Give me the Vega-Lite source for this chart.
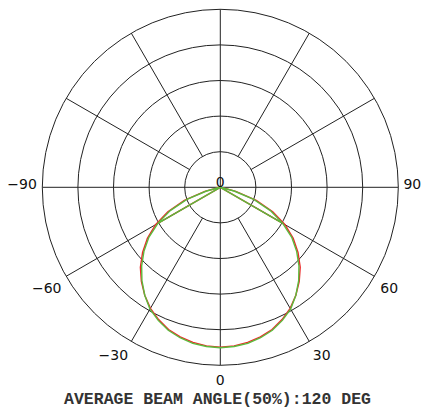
{
  "$schema": "https://vega.github.io/schema/vega-lite/v6.json",
  "autosize": "none",
  "width": 400,
  "height": 374.6,
  "padding": {"left": 20.3, "top": 0, "right": 0.7, "bottom": 35.4},
  "background": "white",
  "config": {"view": {"stroke": null}},
  "datasets": {
    "rings": [{"r": 0.2}, {"r": 0.4}, {"r": 0.6}, {"r": 0.8}, {"r": 1.0}],
    "spokes": [
      {"x": 0, "y": 1, "x2": 0, "y2": -1},
      {"x": -1, "y": 0, "x2": 1, "y2": 0},
      {"x": 0.1, "y": 0.1732, "x2": 0.5, "y2": 0.866},
      {"x": -0.1, "y": 0.1732, "x2": -0.5, "y2": 0.866},
      {"x": 0.1, "y": -0.1732, "x2": 0.5, "y2": -0.866},
      {"x": -0.1, "y": -0.1732, "x2": -0.5, "y2": -0.866},
      {"x": 0.1732, "y": 0.1, "x2": 0.866, "y2": 0.5},
      {"x": -0.1732, "y": 0.1, "x2": -0.866, "y2": 0.5},
      {"x": 0.1732, "y": -0.1, "x2": 0.866, "y2": -0.5},
      {"x": -0.1732, "y": -0.1, "x2": -0.866, "y2": -0.5}
    ],
    "curves": [
      {"s": "red", "o": 0, "x": -0.3637, "y": -0.2100},
      {"s": "red", "o": 1, "x": 0, "y": 0},
      {"s": "red", "o": 2, "x": -0.0869, "y": -0.0233},
      {"s": "red", "o": 3, "x": -0.2020, "y": -0.0735},
      {"s": "red", "o": 4, "x": -0.2946, "y": -0.1374},
      {"s": "red", "o": 5, "x": -0.3637, "y": -0.2100},
      {"s": "red", "o": 6, "x": -0.4096, "y": -0.2868},
      {"s": "red", "o": 7, "x": -0.4366, "y": -0.3664},
      {"s": "red", "o": 8, "x": -0.4490, "y": -0.4490},
      {"s": "red", "o": 9, "x": -0.4435, "y": -0.5286},
      {"s": "red", "o": 10, "x": -0.4245, "y": -0.6062},
      {"s": "red", "o": 11, "x": -0.3925, "y": -0.6798},
      {"s": "red", "o": 12, "x": -0.3466, "y": -0.7432},
      {"s": "red", "o": 13, "x": -0.2907, "y": -0.7987},
      {"s": "red", "o": 14, "x": -0.2252, "y": -0.8404},
      {"s": "red", "o": 15, "x": -0.1537, "y": -0.8716},
      {"s": "red", "o": 16, "x": -0.0779, "y": -0.8906},
      {"s": "red", "o": 17, "x": 0, "y": -0.898},
      {"s": "red", "o": 18, "x": 0.0779, "y": -0.8906},
      {"s": "red", "o": 19, "x": 0.1537, "y": -0.8716},
      {"s": "red", "o": 20, "x": 0.2252, "y": -0.8404},
      {"s": "red", "o": 21, "x": 0.2907, "y": -0.7987},
      {"s": "red", "o": 22, "x": 0.3466, "y": -0.7432},
      {"s": "red", "o": 23, "x": 0.3925, "y": -0.6798},
      {"s": "red", "o": 24, "x": 0.4245, "y": -0.6062},
      {"s": "red", "o": 25, "x": 0.4435, "y": -0.5286},
      {"s": "red", "o": 26, "x": 0.4490, "y": -0.4490},
      {"s": "red", "o": 27, "x": 0.4366, "y": -0.3664},
      {"s": "red", "o": 28, "x": 0.4096, "y": -0.2868},
      {"s": "red", "o": 29, "x": 0.3637, "y": -0.2100},
      {"s": "red", "o": 30, "x": 0.2946, "y": -0.1374},
      {"s": "red", "o": 31, "x": 0.2020, "y": -0.0735},
      {"s": "red", "o": 32, "x": 0.0869, "y": -0.0233},
      {"s": "red", "o": 33, "x": 0, "y": 0},
      {"s": "red", "o": 34, "x": 0.3637, "y": -0.2100},
      {"s": "green", "o": 0, "x": -0.3507, "y": -0.2025},
      {"s": "green", "o": 1, "x": 0, "y": 0},
      {"s": "green", "o": 2, "x": -0.0773, "y": -0.0207},
      {"s": "green", "o": 3, "x": -0.1879, "y": -0.0684},
      {"s": "green", "o": 4, "x": -0.2810, "y": -0.1310},
      {"s": "green", "o": 5, "x": -0.3507, "y": -0.2025},
      {"s": "green", "o": 6, "x": -0.4014, "y": -0.2811},
      {"s": "green", "o": 7, "x": -0.4290, "y": -0.3600},
      {"s": "green", "o": 8, "x": -0.4419, "y": -0.4419},
      {"s": "green", "o": 9, "x": -0.4403, "y": -0.5247},
      {"s": "green", "o": 10, "x": -0.4245, "y": -0.6062},
      {"s": "green", "o": 11, "x": -0.3950, "y": -0.6842},
      {"s": "green", "o": 12, "x": -0.3487, "y": -0.7477},
      {"s": "green", "o": 13, "x": -0.2924, "y": -0.8034},
      {"s": "green", "o": 14, "x": -0.2265, "y": -0.8452},
      {"s": "green", "o": 15, "x": -0.1546, "y": -0.8765},
      {"s": "green", "o": 16, "x": -0.0783, "y": -0.8946},
      {"s": "green", "o": 17, "x": 0, "y": -0.901},
      {"s": "green", "o": 18, "x": 0.0783, "y": -0.8946},
      {"s": "green", "o": 19, "x": 0.1546, "y": -0.8765},
      {"s": "green", "o": 20, "x": 0.2265, "y": -0.8452},
      {"s": "green", "o": 21, "x": 0.2924, "y": -0.8034},
      {"s": "green", "o": 22, "x": 0.3487, "y": -0.7477},
      {"s": "green", "o": 23, "x": 0.3950, "y": -0.6842},
      {"s": "green", "o": 24, "x": 0.4245, "y": -0.6062},
      {"s": "green", "o": 25, "x": 0.4403, "y": -0.5247},
      {"s": "green", "o": 26, "x": 0.4419, "y": -0.4419},
      {"s": "green", "o": 27, "x": 0.4290, "y": -0.3600},
      {"s": "green", "o": 28, "x": 0.4014, "y": -0.2811},
      {"s": "green", "o": 29, "x": 0.3507, "y": -0.2025},
      {"s": "green", "o": 30, "x": 0.2810, "y": -0.1310},
      {"s": "green", "o": 31, "x": 0.1879, "y": -0.0684},
      {"s": "green", "o": 32, "x": 0.0773, "y": -0.0207},
      {"s": "green", "o": 33, "x": 0, "y": 0},
      {"s": "green", "o": 34, "x": 0.3507, "y": -0.2025}
    ],
    "labels": [
      {"t": "−90", "x": -1.114, "y": -0.0079},
      {"t": "90", "x": 1.0790, "y": -0.0079},
      {"t": "0", "x": 0, "y": 0.0034},
      {"t": "−60", "x": -0.975, "y": -0.5955},
      {"t": "60", "x": 0.949, "y": -0.5955},
      {"t": "−30", "x": -0.601, "y": -0.9685},
      {"t": "30", "x": 0.570, "y": -0.9685},
      {"t": "0", "x": 0, "y": -1.1107}
    ],
    "title": [
      {"t": "AVERAGE BEAM ANGLE(50%):120 DEG", "x": -0.0157, "y": -1.2191}
    ]
  },
  "layer": [
    {
      "data": {"name": "rings"},
      "mark": {"type": "arc", "theta": 0, "theta2": 6.2832, "fill": null, "fillOpacity": 0, "stroke": "#222", "strokeWidth": 1},
      "encoding": {
        "radius": {"field": "r", "type": "quantitative", "stack": null, "scale": {"type": "linear", "domain": [0, 1], "range": [0, 178], "zero": true}}
      }
    },
    {
      "data": {"name": "spokes"},
      "mark": {"type": "rule", "stroke": "#222", "strokeWidth": 1},
      "encoding": {
        "x": {"field": "x", "type": "quantitative", "scale": {"domain": [-1.1236, 1.1236], "nice": false, "zero": false}, "axis": null},
        "y": {"field": "y", "type": "quantitative", "scale": {"domain": [-1.0522, 1.0522], "nice": false, "zero": false}, "axis": null},
        "x2": {"field": "x2"},
        "y2": {"field": "y2"}
      }
    },
    {
      "data": {"name": "curves"},
      "mark": {"type": "line", "strokeWidth": 1.4, "interpolate": "linear"},
      "encoding": {
        "x": {"field": "x", "type": "quantitative"},
        "y": {"field": "y", "type": "quantitative"},
        "order": {"field": "o", "type": "quantitative"},
        "color": {"field": "s", "type": "nominal", "scale": {"domain": ["red", "green"], "range": ["#ec2a2a", "#5cba3c"]}, "legend": null},
        "detail": {"field": "s"}
      }
    },
    {
      "data": {"name": "labels"},
      "mark": {"type": "text", "font": "DejaVu Sans", "fontSize": 14, "align": "center", "baseline": "alphabetic", "color": "#111"},
      "encoding": {
        "x": {"field": "x", "type": "quantitative"},
        "y": {"field": "y", "type": "quantitative"},
        "text": {"field": "t"}
      }
    },
    {
      "data": {"name": "title"},
      "mark": {"type": "text", "font": "Liberation Mono", "fontSize": 16.5, "fontWeight": "bold", "align": "center", "baseline": "alphabetic", "color": "#333"},
      "encoding": {
        "x": {"field": "x", "type": "quantitative"},
        "y": {"field": "y", "type": "quantitative"},
        "text": {"field": "t"}
      }
    }
  ]
}
